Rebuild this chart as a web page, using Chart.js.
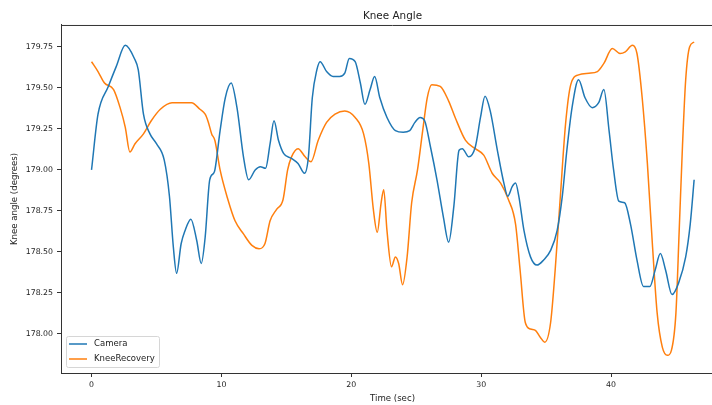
<!DOCTYPE html>
<html>
<head>
<meta charset="utf-8">
<title>Knee Angle</title>
<script src="https://cdn.jsdelivr.net/npm/chart.js@4.4.1/dist/chart.umd.min.js"></script>
<style>
  html, body { margin: 0; padding: 0; background: #fff; overflow: hidden; }
  #wrap { width: 740px; height: 405px; }
</style>
</head>
<body>
<div id="wrap"><canvas id="kneeChart" width="740" height="405"></canvas></div>
<script>
// values
const cameraTime = [0, 0.5, 1.3, 1.9, 2.6, 3.3, 3.6, 4.0, 4.5, 5.0, 5.6, 6.0, 6.3, 6.55, 6.9, 7.2, 7.65, 8.1, 8.45, 8.75,
  9.1, 9.4, 9.5, 9.9, 10.3, 10.75, 11.2, 11.7, 12.1, 12.6, 13.0, 13.4, 13.75, 14.05, 14.4, 14.8, 15.4, 15.9, 16.4, 16.7,
  17.0, 17.35, 17.6, 18.1, 18.6, 19.1, 19.5, 19.85, 20.3, 20.7, 21.05, 21.45, 21.8, 22.2, 22.75, 23.4, 24.0, 24.5, 24.9, 25.3,
  25.65, 26.1, 26.6, 27.1, 27.5, 27.9, 28.3, 28.55, 29.05, 29.55, 29.95, 30.3, 30.7, 31.25, 31.75, 32.05, 32.4, 32.65, 32.9, 33.3,
  33.8, 34.3, 34.8, 35.35, 35.85, 36.25, 36.6, 37.0, 37.5, 38.0, 38.55, 39.05, 39.45, 39.85, 40.2, 40.6, 41.05, 41.5, 42.0, 42.5,
  43.0, 43.4, 43.8, 44.2, 44.7, 45.2, 45.75, 46.1, 46.4];
const cameraAngle = [179.00, 179.34, 179.51, 179.63, 179.76, 179.68, 179.61, 179.34, 179.22, 179.16, 179.06, 178.84, 178.53, 178.37, 178.55, 178.63, 178.70, 178.57, 178.43, 178.59,
  178.94, 178.98, 179.00, 179.24, 179.44, 179.53, 179.38, 179.08, 178.94, 179.00, 179.02, 179.01, 179.16, 179.30, 179.18, 179.10, 179.07, 179.04, 178.98, 179.08,
  179.44, 179.61, 179.66, 179.60, 179.57, 179.57, 179.59, 179.68, 179.66, 179.53, 179.40, 179.49, 179.57, 179.44, 179.32, 179.24, 179.23, 179.24, 179.29, 179.32,
  179.30, 179.14, 178.94, 178.71, 178.56, 178.78, 179.12, 179.13, 179.08, 179.14, 179.32, 179.45, 179.36, 179.12, 178.92, 178.84, 178.90, 178.92, 178.84, 178.63,
  178.47, 178.42, 178.45, 178.51, 178.63, 178.84, 179.12, 179.38, 179.55, 179.44, 179.38, 179.41, 179.49, 179.24, 179.00, 178.81, 178.80, 178.67, 178.45, 178.29,
  178.29, 178.39, 178.49, 178.39, 178.24, 178.31, 178.47, 178.67, 178.94];

const kneeTime = [0, 0.5, 1.0, 1.7, 2.2, 2.6, 2.95, 3.35, 4.0, 4.6, 5.3, 6.2, 6.9, 7.7, 8.35, 8.75, 9.0, 9.25, 9.5, 9.9,
  10.5, 11.05, 11.7, 12.35, 12.9, 13.35, 13.75, 14.25, 14.75, 15.1, 15.4, 15.9, 16.45, 16.9, 17.45, 18.1, 18.75, 19.5, 20.3, 20.95,
  21.35, 21.7, 22.0, 22.3, 22.5, 22.75, 23.1, 23.4, 23.65, 23.95, 24.3, 24.65, 25.1, 25.5, 25.85, 26.2, 26.85, 27.5, 28.0, 28.8,
  29.55, 30.2, 30.85, 31.5, 32.1, 32.65, 33.0, 33.4, 33.8, 34.2, 34.55, 34.9, 35.35, 35.7, 36.1, 36.5, 36.9, 37.5, 38.3, 38.95,
  39.45, 40.1, 40.7, 41.1, 41.65, 42.0, 42.4, 42.8, 43.2, 43.55, 43.95, 44.35, 44.65, 45.0, 45.25, 45.5, 45.75, 46.05, 46.4];
const kneeAngle = [179.66, 179.60, 179.53, 179.49, 179.38, 179.26, 179.11, 179.16, 179.22, 179.30, 179.37, 179.41, 179.41, 179.41, 179.37, 179.34, 179.29, 179.22, 179.18, 179.00,
  178.82, 178.69, 178.61, 178.54, 178.52, 178.55, 178.69, 178.76, 178.82, 179.00, 179.08, 179.13, 179.08, 179.05, 179.18, 179.29, 179.34, 179.36, 179.32, 179.22,
  179.04, 178.76, 178.62, 178.80, 178.88, 178.63, 178.41, 178.47, 178.43, 178.30, 178.47, 178.80, 179.00, 179.24, 179.44, 179.52, 179.51, 179.42, 179.32, 179.18,
  179.13, 179.09, 178.98, 178.92, 178.82, 178.67, 178.39, 178.07, 178.03, 178.02, 177.98, 177.95, 178.07, 178.39, 178.84, 179.28, 179.52, 179.58, 179.59, 179.60,
  179.65, 179.74, 179.71, 179.72, 179.76, 179.71, 179.44, 179.04, 178.53, 178.13, 177.92, 177.87, 177.90, 178.13, 178.63, 179.14, 179.55, 179.75, 179.78];

const xTicks = [0, 10, 20, 30, 40];
const yTicks = [178.00, 178.25, 178.50, 178.75, 179.00, 179.25, 179.50, 179.75];

const FONT = "'DejaVu Sans', sans-serif";
const TEXT = "#222";

function toPoints(xs, ys) {
  return xs.map((x, i) => ({ x: x, y: ys[i] }));
}

// top/right spines and a matplotlib-like legend box
const frameAndLegend = {
  id: "frameAndLegend",
  afterDatasetsDraw(chart) {
    const { ctx, chartArea: a } = chart;
    ctx.save();
    ctx.strokeStyle = "#333";
    ctx.lineWidth = 1;
    ctx.beginPath();
    ctx.moveTo(a.left, a.top + 0.5);
    ctx.lineTo(a.right, a.top + 0.5);
    ctx.moveTo(a.right - 0.5, a.top);
    ctx.lineTo(a.right - 0.5, a.bottom);
    ctx.stroke();

    const x = a.left + 5, y = a.bottom - 37, w = 93, h = 31;
    ctx.fillStyle = "rgba(255,255,255,0.8)";
    ctx.strokeStyle = "#d6d6d6";
    ctx.beginPath();
    ctx.roundRect(x + 0.5, y + 0.5, w, h, 2);
    ctx.fill();
    ctx.stroke();

    ctx.font = "8.5px " + FONT;
    ctx.textBaseline = "middle";
    chart.data.datasets.forEach((ds, i) => {
      const ly = y + 8 + i * 15;
      ctx.strokeStyle = ds.borderColor;
      ctx.lineWidth = 1.5;
      ctx.beginPath();
      ctx.moveTo(x + 3, ly);
      ctx.lineTo(x + 21, ly);
      ctx.stroke();
      ctx.fillStyle = TEXT;
      ctx.fillText(ds.label, x + 28, ly);
    });
    ctx.restore();
  }
};

new Chart(document.getElementById("kneeChart"), {
  type: "line",
  data: {
    datasets: [
      {
        label: "Camera",
        data: toPoints(cameraTime, cameraAngle),
        borderColor: "#1f77b4",
        borderWidth: 1.5,
        pointRadius: 0,
        cubicInterpolationMode: "monotone",
        fill: false
      },
      {
        label: "KneeRecovery",
        data: toPoints(kneeTime, kneeAngle),
        borderColor: "#ff7f0e",
        borderWidth: 1.5,
        pointRadius: 0,
        cubicInterpolationMode: "monotone",
        fill: false
      }
    ]
  },
  options: {
    responsive: false,
    animation: false,
    devicePixelRatio: 1,
    layout: { padding: { left: 0, right: 16, top: 0, bottom: 0 } },
    plugins: {
      legend: { display: false },
      tooltip: { enabled: false },
      title: {
        display: true,
        text: "Knee Angle",
        fullSize: false,
        color: TEXT,
        font: { family: FONT, size: 10.4, weight: "normal" },
        padding: { top: 10, bottom: 2.5 }
      }
    },
    scales: {
      x: {
        type: "linear",
        min: -2.35,
        max: 48.7,
        afterBuildTicks: s => { s.ticks = xTicks.map(v => ({ value: v })); },
        afterFit: s => { s.height = 32; },
        grid: { drawOnChartArea: false, drawTicks: true, tickLength: 4, tickColor: "#333" },
        border: { display: true, color: "#333", width: 1 },
        ticks: { color: TEXT, padding: 3, maxRotation: 0, font: { family: FONT, size: 7.8 } },
        title: { display: true, text: "Time (sec)", color: TEXT, padding: { top: 0, bottom: 1 }, font: { family: FONT, size: 8.6 } }
      },
      y: {
        min: 177.762,
        max: 179.884,
        afterBuildTicks: s => { s.ticks = yTicks.map(v => ({ value: v })); },
        afterFit: s => { s.width = 61; },
        grid: { drawOnChartArea: false, drawTicks: true, tickLength: 4, tickColor: "#333" },
        border: { display: true, color: "#333", width: 1 },
        ticks: { color: TEXT, padding: 4, font: { family: FONT, size: 7.8 }, callback: v => v.toFixed(2) },
        title: { display: true, text: "Knee angle (degrees)", color: TEXT, padding: { top: 10, bottom: 0 }, font: { family: FONT, size: 8.6 } }
      }
    }
  },
  plugins: [frameAndLegend]
});
</script>
</body>
</html>
